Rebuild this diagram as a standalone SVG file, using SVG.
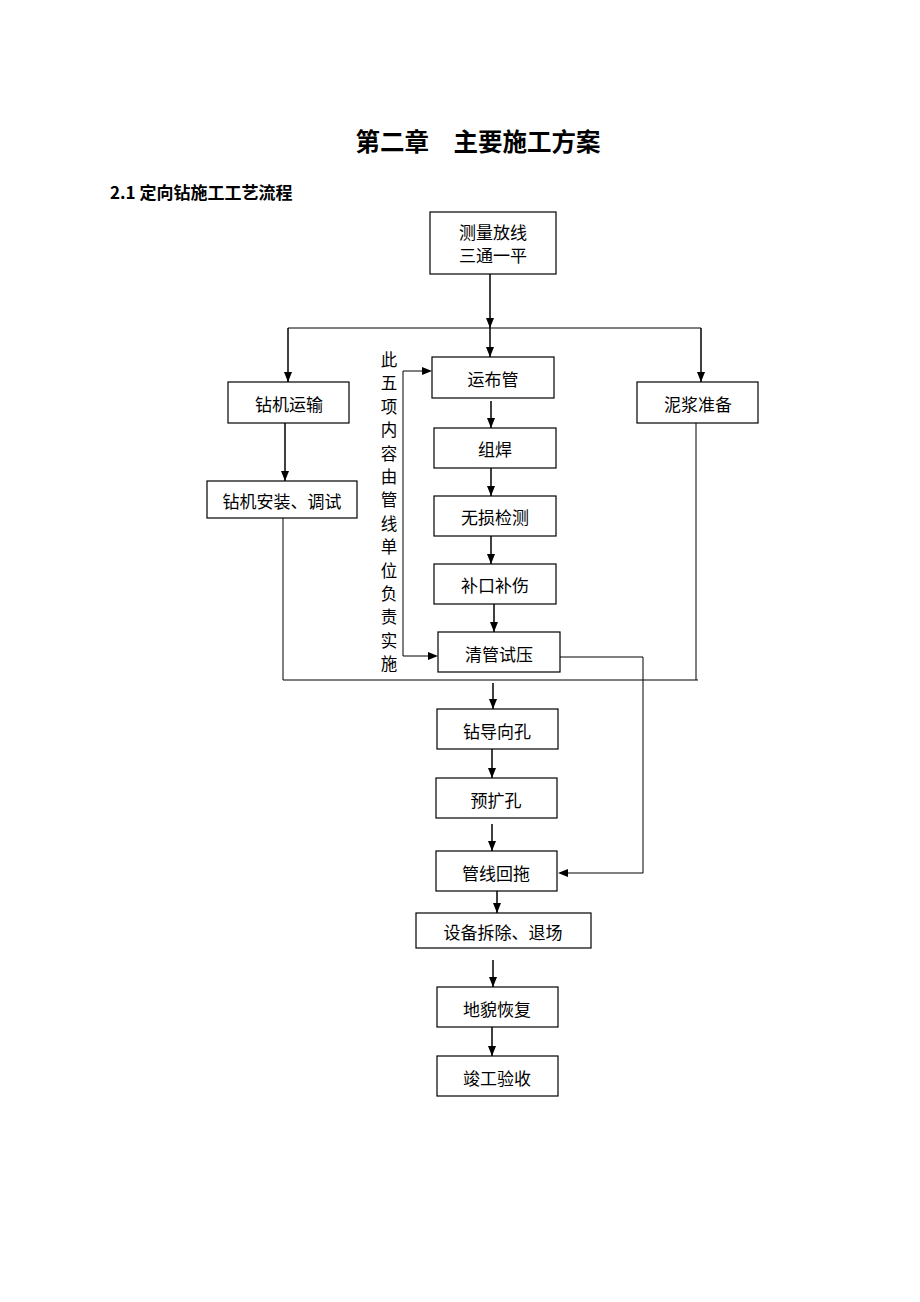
<svg xmlns="http://www.w3.org/2000/svg" width="920" height="1302" viewBox="0 0 920 1302">
<style>
.box{fill:#fff;stroke:#000;stroke-width:1.2}
.t{font-family:"Noto Sans CJK SC",sans-serif;font-size:17px;fill:#000;text-anchor:middle;dominant-baseline:central}
.ln{fill:none;stroke:#000;stroke-width:1.5}
.thin{fill:none;stroke:#000;stroke-width:1}
</style>
<defs>
<marker id="ah" markerWidth="10" markerHeight="8" refX="10" refY="4" orient="auto" markerUnits="userSpaceOnUse">
<path d="M0,0 L10,4 L0,8 Z" fill="#000"/>
</marker>
</defs>
<rect width="920" height="1302" fill="#fff"/>
<text x="478" y="140" font-family="'Noto Sans CJK SC',sans-serif" font-size="24.5" font-weight="bold" text-anchor="middle" dominant-baseline="central">第二章　主要施工方案</text>
<text x="110" y="191" font-family="'Noto Sans CJK SC',sans-serif" font-size="17" font-weight="bold" dominant-baseline="central">2.1 定向钻施工工艺流程</text>

<g id="connectors">
<path class="ln" d="M490,274 V328" marker-end="url(#ah)"/>
<path class="thin" d="M288,328 H701"/>
<path class="ln" d="M288,328 V382" marker-end="url(#ah)"/>
<path class="ln" d="M490,328 V357" marker-end="url(#ah)"/>
<path class="ln" d="M701,328 V382" marker-end="url(#ah)"/>
<path class="ln" d="M285,423 V481" marker-end="url(#ah)"/>
<path class="ln" d="M491,401 V428" marker-end="url(#ah)"/>
<path class="ln" d="M491,468 V496" marker-end="url(#ah)"/>
<path class="ln" d="M491,536 V564" marker-end="url(#ah)"/>
<path class="ln" d="M494,604 V632" marker-end="url(#ah)"/>
<path class="thin" d="M283,518 V680 H698"/>
<path class="thin" d="M696,423 V680"/>
<path class="ln" d="M493,683 V709" marker-end="url(#ah)"/>
<path class="thin" d="M403,656 V371 H422"/>
<path d="M422,367 L432,371 L422,375 Z" fill="#000"/>
<path class="thin" d="M403,656 H428"/>
<path d="M428,652 L438,656 L428,660 Z" fill="#000"/>
<path class="thin" d="M560,657 H643 V873 H568"/>
<path d="M568,869 L558,873 L568,877 Z" fill="#000"/>
<path class="ln" d="M492,749 V778" marker-end="url(#ah)"/>
<path class="ln" d="M492,824 V851" marker-end="url(#ah)"/>
<path class="ln" d="M497,891 V913" marker-end="url(#ah)"/>
<path class="ln" d="M493,960 V987" marker-end="url(#ah)"/>
<path class="ln" d="M492,1027 V1056" marker-end="url(#ah)"/>
</g>

<g id="n-survey"><rect class="box" x="430" y="212" width="126" height="62"/><text class="t" x="493" y="231">测量放线</text><text class="t" x="493" y="254">三通一平</text></g>
<g id="n-rig-transport"><rect class="box" x="228" y="382" width="121" height="41"/><text class="t" x="289" y="403">钻机运输</text></g>
<g id="n-mud"><rect class="box" x="637" y="382" width="121" height="41"/><text class="t" x="698" y="403">泥浆准备</text></g>
<g id="n-pipe-transport"><rect class="box" x="432" y="357" width="122" height="41"/><text class="t" x="493" y="378">运布管</text></g>
<g id="n-weld"><rect class="box" x="434" y="428" width="122" height="40"/><text class="t" x="495" y="448">组焊</text></g>
<g id="n-ndt"><rect class="box" x="434" y="496" width="122" height="40"/><text class="t" x="495" y="516">无损检测</text></g>
<g id="n-repair"><rect class="box" x="434" y="564" width="122" height="40"/><text class="t" x="495" y="584">补口补伤</text></g>
<g id="n-test"><rect class="box" x="438" y="632" width="122" height="40"/><text class="t" x="499" y="653">清管试压</text></g>
<g id="n-rig-install"><rect class="box" x="207" y="481" width="150" height="37"/><text class="t" x="282" y="500">钻机安装、调试</text></g>
<g id="n-note"><text x="389" y="359" font-family="'Noto Sans CJK SC',sans-serif" font-size="16.5" text-anchor="middle" dominant-baseline="central">
<tspan x="389" dy="0">此</tspan><tspan x="389" dy="23.4">五</tspan><tspan x="389" dy="23.4">项</tspan><tspan x="389" dy="23.4">内</tspan><tspan x="389" dy="23.4">容</tspan><tspan x="389" dy="23.4">由</tspan><tspan x="389" dy="23.4">管</tspan><tspan x="389" dy="23.4">线</tspan><tspan x="389" dy="23.4">单</tspan><tspan x="389" dy="23.4">位</tspan><tspan x="389" dy="23.4">负</tspan><tspan x="389" dy="23.4">责</tspan><tspan x="389" dy="23.4">实</tspan><tspan x="389" dy="23.4">施</tspan></text></g>
<g id="n-pilot"><rect class="box" x="437" y="709" width="121" height="40"/><text class="t" x="497" y="730">钻导向孔</text></g>
<g id="n-ream"><rect class="box" x="436" y="778" width="121" height="40"/><text class="t" x="496" y="799">预扩孔</text></g>
<g id="n-pullback"><rect class="box" x="436" y="851" width="121" height="40"/><text class="t" x="496" y="872">管线回拖</text></g>
<g id="n-demob"><rect class="box" x="416" y="913" width="175" height="35"/><text class="t" x="503" y="931">设备拆除、退场</text></g>
<g id="n-restore"><rect class="box" x="437" y="987" width="121" height="40"/><text class="t" x="497" y="1008">地貌恢复</text></g>
<g id="n-accept"><rect class="box" x="437" y="1056" width="121" height="40"/><text class="t" x="497" y="1077">竣工验收</text></g>
</svg>
